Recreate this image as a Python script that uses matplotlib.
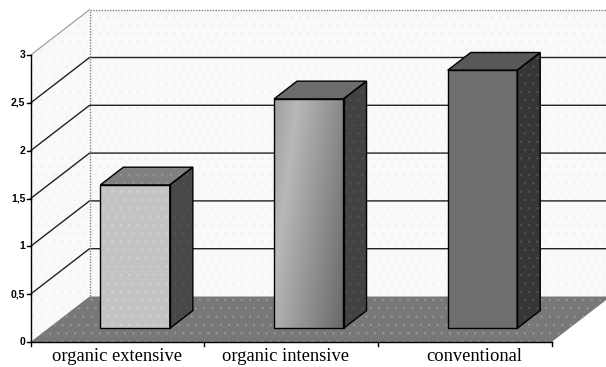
import matplotlib
matplotlib.use('Agg')
import matplotlib.pyplot as plt
import numpy as np
from matplotlib.patches import Polygon

plt.rcParams['hatch.linewidth'] = 0.3

categories = ['organic extensive', 'organic intensive', 'conventional']
values = [1.5, 2.4, 2.7]
ytick_values = [0, 0.5, 1, 1.5, 2, 2.5, 3]
ytick_labels = ['0', '0,5', '1', '1,5', '2', '2,5', '3']
label_pos = [0.5, 1.47, 2.557]

face_colors = ['#c4c4c4', None, '#6e6e6e']
top_colors = ['#808080', '#6c6c6c', '#585858']
side_colors = ['#484848', '#424242', '#363636']

# fake 3d: depth z runs 0..1 and shifts a point right and up
DX = 0.34
DY = 0.476
Z0, Z1 = 0.30, 0.69
W = 0.2


def proj(x, y, z):
    return (x + z * DX, y + z * DY)


def quad(ax, pts, fc, zorder, dots=None, ec='none', lw=0):
    xy = [proj(*p) for p in pts]
    ax.add_patch(Polygon(xy, closed=True, facecolor=fc, edgecolor='none', zorder=zorder))
    if dots:
        ax.add_patch(Polygon(xy, closed=True, facecolor='none', edgecolor=dots, hatch='..',
                             linewidth=0, zorder=zorder))
    if lw:
        ax.add_patch(Polygon(xy, closed=True, facecolor='none', edgecolor=ec, linewidth=lw,
                             zorder=zorder + 0.1))


fig = plt.figure(figsize=(6.06, 3.67), dpi=100)
ax = fig.add_axes([0, 0, 1, 1])
ax.axis('off')

# walls and floor
quad(ax, [(0, 0, 0), (0, 3, 0), (0, 3, 1), (0, 0, 1)], '#f9f9f9', 1, dots='#eeeeee')
quad(ax, [(0, 0, 1), (0, 3, 1), (3.2, 3, 1), (3.2, 0, 1)], '#f9f9f9', 1, dots='#eeeeee')
quad(ax, [(0, 0, 0), (3, 0, 0), (3, 0, 1), (0, 0, 1)], '#787878', 3, dots='#9c9c9c')

# gridlines
for v in ytick_values[1:-1]:
    a = proj(0, v, 0)
    b = proj(0, v, 1)
    c = proj(3.2, v, 1)
    ax.plot([a[0], b[0], c[0]], [a[1], b[1], c[1]], color='#222222', lw=1.0, zorder=2)

# wall outline, light and dotted
a = proj(0, 3, 0)
b = proj(0, 3, 1)
c = proj(3.2, 3, 1)
ax.plot([a[0], b[0]], [a[1], b[1]], color='#999999', lw=0.8, zorder=2)
ax.plot([b[0], c[0]], [b[1], c[1]], color='#808080', lw=1.0, ls=(0, (1, 1)), zorder=2)
d = proj(0, 0, 1)
ax.plot([d[0], b[0]], [d[1], b[1]], color='#808080', lw=1.0, ls=(0, (1, 1)), zorder=2)

# bars
for i, v in enumerate(values):
    x0 = i + 0.5 - W
    x1 = i + 0.5 + W
    z = 5 + i
    if face_colors[i] is not None:
        quad(ax, [(x0, 0, Z0), (x1, 0, Z0), (x1, v, Z0), (x0, v, Z0)], face_colors[i], z,
             dots='#d6d6d6' if i == 0 else None, ec='black', lw=1.0)
    else:
        # diagonal gradient on the middle bar, lighter towards the upper left
        p0 = proj(x0, 0, Z0)
        p1 = proj(x1, v, Z0)
        gx, gy = np.meshgrid(np.linspace(0, 1, 70), np.linspace(1, 0, 230))
        grad = 0.72 - 0.28 * np.abs(gx + 0.45 * (1 - gy) - 0.35)
        grad = np.clip(grad, 0.36, 0.74)
        ax.imshow(grad, extent=[p0[0], p1[0], p0[1], p1[1]], cmap='gray',
                  vmin=0, vmax=1, aspect='auto', zorder=z, interpolation='bilinear')
        quad(ax, [(x0, 0, Z0), (x1, 0, Z0), (x1, v, Z0), (x0, v, Z0)], 'none', z,
             ec='black', lw=1.0)
    quad(ax, [(x1, 0, Z0), (x1, 0, Z1), (x1, v, Z1), (x1, v, Z0)], side_colors[i], z,
         dots='#565656', ec='black', lw=1.0)
    quad(ax, [(x0, v, Z0), (x1, v, Z0), (x1, v, Z1), (x0, v, Z1)], top_colors[i], z,
         dots='#969696' if i == 0 else None, ec='black', lw=1.0)

# axes lines, ticks and labels
ax.plot([0, 0], [0, 3], color='black', lw=1.0, zorder=10, solid_capstyle='projecting')
ax.plot([0, 3], [0, 0], color='black', lw=1.0, zorder=10, solid_capstyle='projecting')
for v, lab in zip(ytick_values, ytick_labels):
    ax.plot([-0.02, 0], [v, v], color='black', lw=1.0, zorder=10)
    ax.text(-0.03, v, lab, ha='right', va='center', fontsize=7.5, fontweight='bold',
            family='Liberation Sans', zorder=10)
for t in range(4):
    ax.plot([t, t], [0, -0.045], color='black', lw=1.0, zorder=10)
for p, lab in zip(label_pos, categories):
    ax.text(p, -0.065, lab, ha='center', va='top', fontsize=13.3, family='Liberation Serif',
            zorder=10)

# same scale as the picture: x unit 173.7 px, y unit 95.6 px
ax.set_xlim(-30.5 / 173.7, (606 - 30.5) / 173.7)
ax.set_ylim(-25 / 95.6, 342 / 95.6)

fig.savefig('out.png', dpi=100)
